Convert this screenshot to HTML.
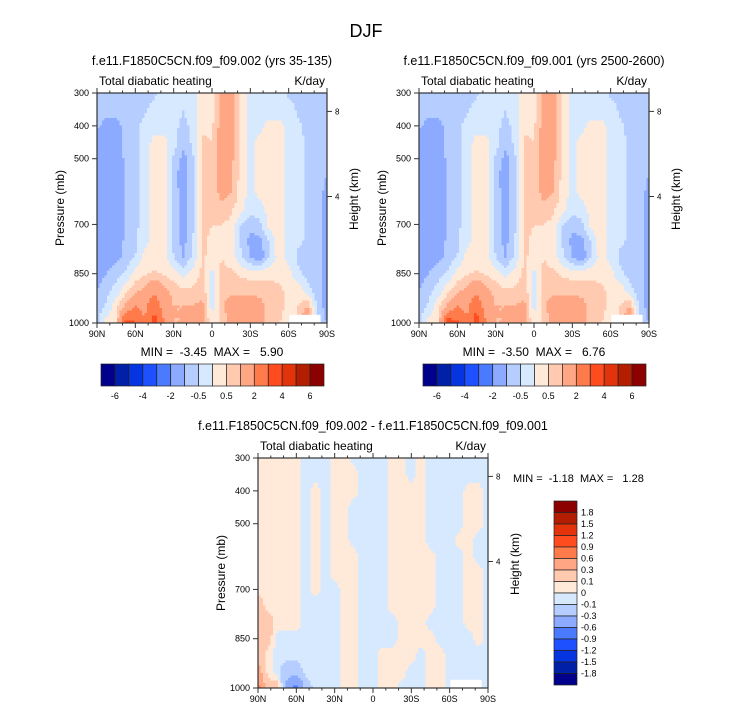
<!DOCTYPE html>
<html><head><meta charset="utf-8"><style>
html,body{margin:0;padding:0;background:#fff}
svg{display:block}
text{font-family:"Liberation Sans",Arial,sans-serif;fill:#000;white-space:pre}
</style></head><body>
<svg id="fig" width="733" height="712" viewBox="0 0 733 712" xmlns="http://www.w3.org/2000/svg" xml:space="preserve">
<text x="366" y="37" font-size="18" text-anchor="middle">DJF</text>
</svg>
<script>
// ---- data ----
const lats = [90,82.5,75,67.5,60,52.5,45,37.5,30,22.5,15,7.5,0,-7.5,-15,-22.5,-30,-37.5,-45,-52.5,-60,-67.5,-75,-82.5,-90];
const pressures = [300,350,400,450,500,550,600,650,700,750,800,850,900,950,1000];
const heatLevels = [-6,-5,-4,-3,-2,-1,-0.5,0,0.5,1,2,3,4,5,6];
const diffLevels = [-1.8,-1.5,-1.2,-0.9,-0.6,-0.3,-0.1,0,0.1,0.3,0.6,0.9,1.2,1.5,1.8];
const heatTickLabels = ["-6","-4","-2","-0.5","0.5","2","4","6"];
const diffTickLabels = ["1.8","1.5","1.2","0.9","0.6","0.3","0.1","0","-0.1","-0.3","-0.6","-0.9","-1.2","-1.5","-1.8"];
const xTickLabels = ["90N","60N","30N","0","30S","60S","90S"];
const xTickLats = [90,60,30,0,-30,-60,-90];
const pTicks = [300,400,500,700,850,1000];
const hTicks = [8,4];
const hTickP = [356,615];
const colors = ["#00008c","#0020a8","#0535e0","#1e50ff","#4a7bff","#8caaff","#b5cdff","#d7e9ff","#ffe9d8","#ffcab0","#ffa784","#ff7b4c","#ff4c1e","#e2330a","#b41e00","#8c0000"];
const heat1 = [
[-0.8,-0.8,-0.8,-0.8,-0.7,-0.7,-0.6,-0.3,-0.3,-0.4,-0.3,0.3,0.2,1.2,1.2,0.4,-0.3,-0.3,-0.3,-0.3,-0.6,-0.6,-0.6,-0.8,-0.8],
[-0.8,-0.8,-0.8,-0.8,-0.7,-0.6,-0.3,-0.25,-0.3,-0.5,-0.3,0.4,0.3,1.2,1.3,0.4,-0.2,-0.3,-0.3,-0.3,-0.3,-0.6,-0.7,-0.8,-0.8],
[-0.9,-1.2,-1.2,-0.8,-0.7,-0.3,-0.2,-0.3,-0.4,-0.6,-0.4,0.4,0.4,1.3,1.3,0.4,-0.2,-0.2,0.2,0.2,-0.2,-0.4,-0.7,-0.8,-0.8],
[-1.3,-1.3,-1.3,-0.8,-0.6,-0.3,0.2,0.2,-0.3,-0.8,-0.4,0.6,0.5,1.4,1.2,0.3,-0.2,0.2,0.3,0.3,-0.2,-0.3,-0.6,-0.8,-0.8],
[-1.3,-1.3,-1.3,-0.9,-0.6,-0.3,0.3,0.2,-0.6,-1.2,-0.6,0.6,0.5,1.5,1.2,0.3,-0.2,0.2,0.3,0.3,-0.2,-0.3,-0.6,-0.7,-0.8],
[-1.3,-1.3,-1.3,-1.0,-0.6,-0.3,0.3,0.2,-0.8,-1.3,-0.7,0.6,0.5,1.4,1.1,0.3,-0.2,0.2,0.3,0.3,-0.2,-0.3,-0.6,-0.7,-1.0],
[-1.3,-1.3,-1.3,-1.0,-0.6,-0.3,0.3,0.2,-0.7,-1.3,-0.7,0.6,0.6,1.3,1.0,0.3,-0.2,0.2,0.3,0.3,-0.2,-0.3,-0.6,-0.7,-1.2],
[-1.3,-1.3,-1.3,-1.0,-0.6,-0.3,0.3,0.2,-0.7,-1.3,-0.6,0.6,0.5,0.8,0.6,0.2,-0.3,-0.2,0.2,0.3,-0.2,-0.3,-0.6,-0.8,-1.3],
[-1.3,-1.3,-1.3,-1.0,-0.6,-0.3,0.3,0.2,-0.7,-1.3,-0.6,0.6,0.5,0.5,0.4,-0.5,-0.8,-0.6,0.2,0.3,-0.2,-0.3,-0.6,-0.8,-1.3],
[-1.3,-1.3,-1.3,-0.9,-0.6,-0.2,0.3,0.2,-0.6,-1.2,-0.5,0.6,0.4,0.5,0.3,-0.6,-1.2,-1.2,-0.4,0.3,-0.2,-0.4,-0.6,-0.8,-1.3],
[-1.3,-1.3,-1.2,-0.8,-0.5,0.2,0.3,0.2,-0.5,-1.0,-0.4,0.6,0.3,0.5,0.3,-0.4,-1.0,-1.4,-0.4,0.2,-0.2,-0.6,-0.7,-0.8,-1.3],
[-1.2,-1.0,-0.7,-0.4,0.2,0.4,0.6,0.4,0.2,-0.2,0.2,0.6,-0.2,0.6,0.6,0.4,0.3,0.3,0.3,0.3,0.2,-0.4,-0.7,-0.8,-1.2],
[-1.0,-0.7,-0.3,0.3,0.8,1.2,1.8,1.2,0.8,0.6,0.6,0.8,-0.2,0.8,0.8,0.8,0.8,0.8,0.8,0.6,0.4,0.3,-0.3,-0.8,-1.2],
[-0.8,-0.4,0.3,1.2,2.0,1.8,2.8,1.5,1.0,1.0,1.0,1.2,-0.2,0.8,1.5,1.5,1.5,1.2,0.8,0.6,0.4,0.5,1.0,-0.7,-1.2],
[-0.6,0.2,0.5,3.5,3.0,2.0,3.5,2.0,1.0,1.0,1.0,1.2,0.2,0.6,1.2,1.2,1.2,1.2,0.8,0.5,0.4,0.5,2.0,-0.8,-1.0]];
const heat2 = [
[-0.8,-0.8,-0.8,-0.8,-0.7,-0.7,-0.6,-0.3,-0.3,-0.4,-0.3,0.3,0.2,1.2,1.2,0.4,-0.3,-0.3,-0.3,-0.3,-0.6,-0.6,-0.6,-0.8,-0.8],
[-0.8,-0.8,-0.8,-0.8,-0.7,-0.6,-0.3,-0.25,-0.3,-0.5,-0.3,0.4,0.3,1.2,1.3,0.4,-0.2,-0.3,-0.3,-0.3,-0.3,-0.6,-0.7,-0.8,-0.8],
[-0.9,-1.2,-1.2,-0.8,-0.7,-0.3,-0.2,-0.3,-0.4,-0.6,-0.4,0.4,0.4,1.3,1.3,0.4,-0.2,-0.2,0.2,0.2,-0.2,-0.4,-0.7,-0.8,-0.8],
[-1.3,-1.3,-1.3,-0.8,-0.6,-0.3,0.2,0.2,-0.3,-0.8,-0.4,0.6,0.5,1.4,1.2,0.3,-0.2,0.2,0.3,0.3,-0.2,-0.3,-0.6,-0.8,-0.8],
[-1.3,-1.3,-1.3,-0.9,-0.6,-0.3,0.3,0.2,-0.6,-1.2,-0.6,0.6,0.5,1.5,1.2,0.3,-0.2,0.2,0.3,0.3,-0.2,-0.3,-0.6,-0.7,-0.8],
[-1.3,-1.3,-1.3,-1.0,-0.6,-0.3,0.3,0.2,-0.8,-1.3,-0.7,0.6,0.5,1.4,1.1,0.3,-0.2,0.2,0.3,0.3,-0.2,-0.3,-0.6,-0.7,-1.0],
[-1.3,-1.3,-1.3,-1.0,-0.6,-0.3,0.3,0.2,-0.7,-1.3,-0.7,0.6,0.6,1.3,1.0,0.3,-0.2,0.2,0.3,0.3,-0.2,-0.3,-0.6,-0.7,-1.2],
[-1.3,-1.3,-1.3,-1.0,-0.6,-0.3,0.3,0.2,-0.7,-1.3,-0.6,0.6,0.5,0.8,0.6,0.2,-0.3,-0.2,0.2,0.3,-0.2,-0.3,-0.6,-0.8,-1.3],
[-1.3,-1.3,-1.3,-1.0,-0.6,-0.3,0.3,0.2,-0.7,-1.3,-0.6,0.6,0.5,0.5,0.4,-0.5,-0.8,-0.6,0.2,0.3,-0.2,-0.3,-0.6,-0.8,-1.3],
[-1.3,-1.3,-1.3,-0.9,-0.6,-0.2,0.3,0.2,-0.6,-1.2,-0.5,0.6,0.4,0.5,0.3,-0.6,-1.2,-1.2,-0.4,0.3,-0.2,-0.4,-0.6,-0.8,-1.3],
[-1.3,-1.3,-1.2,-0.8,-0.5,0.2,0.3,0.2,-0.5,-1.0,-0.4,0.6,0.3,0.5,0.3,-0.4,-1.0,-1.4,-0.4,0.2,-0.2,-0.6,-0.7,-0.8,-1.3],
[-1.2,-1.0,-0.7,-0.4,0.2,0.4,0.6,0.4,0.2,-0.2,0.2,0.6,-0.2,0.6,0.6,0.4,0.3,0.3,0.3,0.3,0.2,-0.4,-0.7,-0.8,-1.2],
[-1.0,-0.7,-0.3,0.3,0.8,1.2,1.8,1.2,0.8,0.6,0.6,0.8,-0.2,0.8,0.8,0.8,0.8,0.8,0.8,0.6,0.4,0.3,-0.3,-0.8,-1.2],
[-0.8,-0.4,0.3,1.2,2.0,1.8,2.8,1.5,1.0,1.0,1.0,1.2,-0.2,0.8,1.5,1.5,1.5,1.2,0.8,0.6,0.4,0.5,1.0,-0.7,-1.2],
[-0.6,0.2,0.5,3.6,3.2,2.0,3.6,2.0,1.0,1.0,1.0,1.2,0.2,0.6,1.2,1.2,1.2,1.2,0.8,0.5,0.4,0.5,2.0,-0.8,-1.0]];
const diff = [
[0.05,0.05,0.05,0.05,0.05,-0.05,-0.05,-0.05,0.05,0.05,-0.05,-0.05,-0.05,-0.05,0.05,0.05,-0.05,0.05,-0.05,-0.05,-0.05,-0.05,-0.05,-0.05,-0.05],
[0.05,0.05,0.05,0.05,0.05,-0.05,-0.05,-0.05,0.05,0.05,0.05,-0.05,-0.05,-0.05,0.05,0.05,-0.05,0.05,-0.05,-0.05,-0.05,-0.05,-0.05,-0.05,-0.05],
[0.05,0.05,0.05,0.05,0.05,-0.05,0.05,-0.05,0.05,0.05,0.05,-0.05,-0.05,-0.05,0.05,0.05,0.05,0.05,-0.05,-0.05,-0.05,-0.05,0.05,0.05,-0.05],
[0.05,0.05,0.05,0.05,0.05,-0.05,0.05,-0.05,0.05,0.05,-0.05,-0.05,-0.05,-0.05,0.05,0.05,0.05,0.05,-0.05,-0.05,-0.05,-0.05,0.05,0.05,-0.05],
[0.05,0.05,0.05,0.05,0.05,-0.05,0.05,-0.05,0.05,0.05,-0.05,-0.05,-0.05,-0.05,0.05,0.05,0.05,0.05,-0.05,-0.05,-0.05,-0.05,0.05,0.05,-0.05],
[0.05,0.05,0.05,0.05,0.05,-0.05,0.05,-0.05,0.05,0.05,-0.05,-0.05,-0.05,-0.05,0.05,0.05,0.05,0.05,-0.05,-0.05,-0.05,0.05,0.05,-0.05,-0.05],
[0.05,0.05,0.05,0.05,0.05,-0.05,0.05,-0.05,0.05,0.05,0.05,-0.05,-0.05,-0.05,0.05,0.05,0.05,0.05,0.05,-0.05,-0.05,-0.05,0.05,-0.05,-0.05],
[0.05,0.05,0.05,0.05,0.05,-0.05,0.05,-0.05,0.05,0.05,0.05,-0.05,-0.05,-0.05,0.05,0.05,0.05,0.05,0.05,-0.05,-0.05,-0.05,0.05,0.05,-0.05],
[0.05,0.05,0.05,0.05,0.05,-0.05,0.05,-0.05,-0.05,0.05,0.05,-0.05,-0.05,-0.05,0.05,0.05,0.05,0.05,0.05,-0.05,-0.05,-0.05,0.05,0.05,-0.05],
[0.2,0.05,0.05,0.05,0.05,-0.05,-0.05,-0.05,-0.05,0.05,0.05,-0.05,-0.05,-0.05,0.05,0.05,0.05,0.05,0.05,-0.05,-0.05,-0.05,0.05,0.05,-0.05],
[0.2,0.2,0.05,0.05,0.05,-0.05,-0.05,-0.05,-0.05,0.05,0.05,-0.05,-0.05,-0.05,-0.05,0.05,0.05,0.05,-0.05,-0.05,-0.05,-0.05,0.05,0.05,-0.05],
[0.2,0.2,-0.05,-0.05,-0.05,-0.05,-0.05,-0.05,-0.05,0.05,0.05,-0.05,-0.05,-0.05,-0.05,0.05,0.05,0.05,0.05,-0.05,-0.05,-0.05,-0.05,0.05,-0.05],
[0.2,0.05,-0.05,-0.05,-0.05,-0.05,-0.05,-0.05,-0.05,0.05,0.05,-0.05,-0.05,0.05,0.05,0.05,0.05,-0.05,0.05,0.05,-0.05,-0.05,-0.05,-0.05,-0.05],
[0.4,0.05,-0.05,-0.2,-0.2,-0.05,-0.05,-0.05,-0.05,0.05,0.05,-0.05,-0.05,0.05,0.05,0.05,-0.05,-0.05,0.05,0.05,-0.05,-0.05,-0.05,-0.05,-0.05],
[0.7,0.2,0.2,-0.4,-0.7,-0.2,-0.05,-0.05,-0.05,0.05,0.05,-0.05,-0.05,0.05,0.05,-0.05,-0.05,-0.05,0.05,0.05,-0.05,-0.05,-0.05,-0.05,-0.05]];

// ---- drawing ----
const NS = "http://www.w3.org/2000/svg";
const svg = document.getElementById('fig');
function mk(tag, attrs, parent){const e=document.createElementNS(NS,tag);for(const k in attrs)e.setAttribute(k,attrs[k]);(parent||svg).appendChild(e);return e;}
function txt(x,y,s,size,anchor,parent,extra){const t=mk('text',Object.assign({x:x,y:y,'font-size':size,'text-anchor':anchor||'start'},extra||{}),parent);t.textContent=s;return t;}
function colorFor(v,levels){let i=0;while(i<levels.length&&v>=levels[i])i++;return colors[i];}
function sample(grid,lat,p){
  let i=0;while(i<lats.length-2&&lat<lats[i+1])i++;
  let j=0;while(j<pressures.length-2&&p>pressures[j+1])j++;
  const fx=(lats[i]-lat)/(lats[i]-lats[i+1]), fy=(p-pressures[j])/(pressures[j+1]-pressures[j]);
  const a=grid[j][i],b=grid[j][i+1],c=grid[j+1][i],d=grid[j+1][i+1];
  return a*(1-fx)*(1-fy)+b*fx*(1-fy)+c*(1-fx)*fy+d*fx*fy;
}
function panel(name,x0,y0,grid,levels,title,minmax){
  const W=230,H=230;
  const g=mk('g',{});
  
  
  const xs=lat=>x0+(90-lat)/180*W;
  const ys=p=>y0+(p-300)/700*H;
  const field=mk('g',{},g);
  
  
  const step=2.5;
  for(let py=0;py<H;py+=step){
    for(let px=0;px<W;px+=step){
      const lat=90-(px+step/2)/W*180, p=300+(py+step/2)/H*700;
      const v=sample(grid,lat,p);
      const r=mk('rect',{x:x0+px,y:y0+py,width:step+0.3,height:step+0.3,fill:colorFor(v,levels)},field);
      
      
    }
  }
  const mask=mk('rect',{x:xs(-60.5),y:ys(975),width:xs(-85)-xs(-60.5),height:ys(1000)-ys(975),fill:'#fff'},g);
  
  
  const frame=mk('rect',{x:x0,y:y0,width:W,height:H,fill:'none',stroke:'#333','stroke-width':1.2},g);
  
  
  for(let lat=90;lat>=-90;lat-=10){
    const major=xTickLats.includes(lat), L=major?5:2.5;
    mk('line',{x1:xs(lat),x2:xs(lat),y1:y0+H,y2:y0+H+L,stroke:'#333'},g);
    mk('line',{x1:xs(lat),x2:xs(lat),y1:y0,y2:y0-L,stroke:'#333'},g);
  }
  xTickLats.forEach((lat,k)=>{const t=txt(xs(lat),y0+H+14,xTickLabels[k],9,'middle',g);
    
    });
  pTicks.forEach(p=>{mk('line',{x1:x0-5,x2:x0,y1:ys(p),y2:ys(p),stroke:'#333'},g);
    const t=txt(x0-8,ys(p)+3,String(p),9,'end',g);
    
    });
  hTicks.forEach((h,k)=>{const y=ys(hTickP[k]);mk('line',{x1:x0+W,x2:x0+W+5,y1:y,y2:y,stroke:'#333'},g);
    const t=txt(x0+W+8,y+3,String(h),8,'start',g);
    
    });
  const yl=txt(x0-33,y0+H/2,'Pressure (mb)',12,'middle',g,{transform:`rotate(-90 ${x0-33} ${y0+H/2})`});
  
  
  const hl=txt(x0+W+31,y0+H/2-9,'Height (km)',12,'middle',g,{transform:`rotate(-90 ${x0+W+31} ${y0+H/2-9})`});
  
  
  const tt=txt(x0+W/2,y0-28,title,12.5,'middle',g);
  
  
  const vl=txt(x0+2,y0-8,'Total diabatic heating',12,'start',g);
  
  
  const ul=txt(x0+W-2,y0-8,'K/day',12,'end',g);
  
  
  if(minmax){const m=txt(x0+W/2,y0+H+33,minmax,12,'middle',g);
    
    }
}
function hbar(name,x0,y0){
  const g=mk('g',{});
  
  
  const w=223/16;
  colors.forEach((c,k)=>{const r=mk('rect',{x:x0+k*w,y:y0,width:w,height:22,fill:c,stroke:'#222','stroke-width':0.7},g);
    
    });
  heatTickLabels.forEach((s,k)=>{const b=k<4?2*k+1:2*k;const t=txt(x0+(b+(k<4?0:1))*w,y0+35,s,9,'middle',g);
    
    });
}
function vbar(name,x0,y0){
  const g=mk('g',{});
  
  
  const h=184/16;
  colors.slice().reverse().forEach((c,k)=>{const r=mk('rect',{x:x0,y:y0+k*h,width:23,height:h,fill:c,stroke:'#222','stroke-width':0.7},g);
    
    });
  diffTickLabels.forEach((s,k)=>{const t=txt(x0+27,y0+(k+1)*h+3,s,9,'start',g);
    
    });
}
panel('panel-left',97,93,heat1,heatLevels,'f.e11.F1850C5CN.f09_f09.002 (yrs 35-135)','MIN =  -3.45  MAX =   5.90');
panel('panel-right',419,93,heat2,heatLevels,'f.e11.F1850C5CN.f09_f09.001 (yrs 2500-2600)','MIN =  -3.50  MAX =   6.76');
panel('panel-diff',258,458,diff,diffLevels,'f.e11.F1850C5CN.f09_f09.002 - f.e11.F1850C5CN.f09_f09.001',null);
hbar('colorbar-left',101,364);
hbar('colorbar-right',423,364);
vbar('colorbar-diff',554,501);
const mm=txt(513,482,'MIN =  -1.18  MAX =   1.28',11,'start');


</script>
</body></html>
